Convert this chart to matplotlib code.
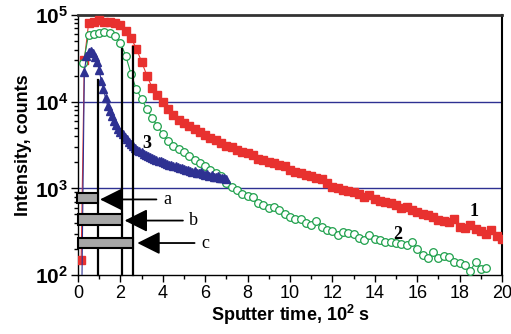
import numpy as np
import matplotlib
matplotlib.use("Agg")
import matplotlib.pyplot as plt
from matplotlib.patches import Rectangle
from matplotlib.ticker import FixedLocator, FuncFormatter, MultipleLocator

plt.rcParams['font.family'] = ['Liberation Sans', 'DejaVu Sans']
plt.rcParams['mathtext.fontset'] = 'custom'
plt.rcParams['mathtext.rm'] = 'Liberation Sans'
plt.rcParams['mathtext.bf'] = 'Liberation Sans:bold'

# curve 1 -- red squares
t1 = [0.15, 0.3] + list(np.arange(0.5, 20.01, 0.25))
y1 = [150, 3.0e4,
      8.0e4, 8.2e4, 8.8e4, 8.4e4, 8.2e4, 8.0e4, 7.6e4, 6.5e4, 5.5e4, 4.1e4,
      2.9e4, 2.0e4, 1.45e4, 1.18e4, 1.0e4, 8300, 7000, 6200, 5700, 5300,
      4800, 4450, 4100, 3850, 3600, 3350, 3100, 3000, 2800, 2650,
      2550, 2450, 2200, 2100, 2000, 1950, 1850, 1800, 1650, 1550,
      1500, 1420, 1380, 1300, 1270, 1150, 1050, 1000, 960, 940,
      900, 850, 790, 830, 760, 720, 700, 680, 650, 600,
      610, 560, 530, 500, 490, 470, 430, 420, 410, 440,
      360, 350, 375, 340, 320, 300, 330, 280, 260]

# curve 2 -- green circles
t2 = list(np.arange(0.25, 19.26, 0.25))
y2 = [2.8e4, 5.9e4, 6.1e4, 6.2e4, 6.3e4, 6.2e4, 5.8e4, 4.8e4, 3.4e4, 2.1e4,
      1.4e4, 1.08e4, 8200, 6500, 5200, 4200, 3500, 3100, 2850, 2600,
      2350, 2150, 1950, 1800, 1650, 1500, 1400, 1150, 1050, 960,
      870, 810, 790, 680, 640, 600, 610, 560, 500, 470,
      440, 445, 400, 380, 420, 360, 335, 320, 290, 316,
      305, 300, 265, 254, 290, 262, 254, 243, 238, 233,
      228, 224, 243, 200, 168, 158, 185, 158, 165, 160,
      143, 138, 131, 112, 140, 118, 122]

# curve 3 -- blue triangles
t3 = [0.18] + list(np.arange(0.3, 7.01, 0.1))
y3 = [60,
      2.2e4, 3.4e4, 3.7e4, 3.8e4, 3.6e4, 3.3e4, 2.9e4, 2.3e4, 1.75e4, 1.4e4,
      1.1e4, 9000, 7800, 6800, 6000, 5400, 4900, 4500, 4200, 3950,
      3700, 3450, 3250, 3050, 2900, 2800, 2700, 2600, 2500, 2420,
      2350, 2300, 2250, 2200, 2120, 2080, 2050, 2000, 1950, 1920,
      1880, 1850, 1800, 1830, 1760, 1700, 1720, 1680, 1620, 1650,
      1600, 1560, 1580, 1520, 1500, 1540, 1470, 1440, 1460, 1400,
      1420, 1370, 1350, 1380, 1320, 1300, 1330, 1280]

# depth markers and boxes a, b, c
vline_x = [0.93, 2.07, 2.58]
vline_top = [1.8e4, 4.1e4, 4.3e4]
box_x0 = [-0.03, 0.0, 0.0]
box_x1 = [0.93, 2.09, 2.61]
box_lo = [675, 380, 205]
box_hi = [890, 507, 270]
box_names = ['a', 'b', 'c']
arrow_tail = [3.7, 4.95, 5.5]
arrow_tip = [1.04, 2.2, 2.8]
arrow_y = [745, 425, 234]
name_x = [4.2, 5.45, 6.0]

red = '#E8312F'
green = '#1FA04C'
navy = '#2E3192'

fig = plt.figure(figsize=(5.11, 3.34), dpi=100)
ax = fig.add_axes([0.1526, 0.1766, 0.8298, 0.7784])

ax.set_yscale('log')
ax.set_xlim(0, 20)
ax.set_ylim(100, 1e5)

for yy in [1e3, 1e4]:
    ax.axhline(yy, color=navy, lw=1.0, zorder=1)

ax.plot(t1, y1, color=red, lw=0.8, marker='s', ms=5.3, mec=red, mfc=red, zorder=3)
ax.plot(t2, y2, color=green, lw=0.8, marker='o', ms=5.5, mec=green, mfc='white',
        mew=0.9, zorder=4)
ax.plot(t3, y3, color=navy, lw=0.8, marker='^', ms=5.5, mec=navy, mfc=navy, zorder=5)

for x, top in zip(vline_x, vline_top):
    ax.plot([x, x], [100, top], color='black', lw=1.6, zorder=6, clip_on=False)

for i in range(3):
    ax.add_patch(Rectangle((box_x0[i], box_lo[i]), box_x1[i] - box_x0[i],
                           box_hi[i] - box_lo[i], facecolor='#A6A6A6',
                           edgecolor='black', lw=1.5, zorder=7, clip_on=False))
    ax.annotate('', xy=(arrow_tip[i], arrow_y[i]), xytext=(arrow_tail[i], arrow_y[i]),
                arrowprops=dict(arrowstyle='-|>,head_length=0.5,head_width=0.25',
                                color='black', lw=1.3,
                                mutation_scale=28, shrinkA=0, shrinkB=0), zorder=8)
    ax.text(name_x[i], arrow_y[i], box_names[i], fontsize=13,
            family='Liberation Serif', ha='center', va='center')

ax.text(18.7, 540, '1', fontsize=13, fontweight='bold', family='Liberation Serif',
        ha='center', va='center')
ax.text(15.1, 295, '2', fontsize=13, fontweight='bold', family='Liberation Serif',
        ha='center', va='center')
ax.text(3.25, 3300, '3', fontsize=13, fontweight='bold', family='Liberation Serif',
        ha='center', va='center')

ax.xaxis.set_major_locator(MultipleLocator(2))
ax.xaxis.set_minor_locator(MultipleLocator(1))
ax.yaxis.set_major_locator(FixedLocator([1e2, 1e3, 1e4, 1e5]))
ax.yaxis.set_major_formatter(FuncFormatter(
    lambda v, p: r'$\mathbf{10^{%d}}$' % round(np.log10(v))))

ax.tick_params(axis='x', which='major', length=5, width=1, labelsize=13, pad=2)
ax.tick_params(axis='x', which='minor', length=3, width=1)
ax.tick_params(axis='y', which='major', length=5, width=1, labelsize=15, pad=2)
ax.tick_params(axis='y', which='minor', length=3, width=1)

ax.spines['top'].set_linewidth(2)
ax.spines['top'].set_color('#333333')
ax.spines['right'].set_linewidth(1.5)
ax.spines['left'].set_linewidth(1)
ax.spines['bottom'].set_linewidth(1)

ax.set_xlabel(r'Sputter time, $\mathbf{10^2}$ s', fontsize=13, fontweight='bold',
              labelpad=1)
ax.set_ylabel('Intensity, counts', fontsize=13, fontweight='bold', labelpad=2)

fig.savefig('out.png', dpi=100)
